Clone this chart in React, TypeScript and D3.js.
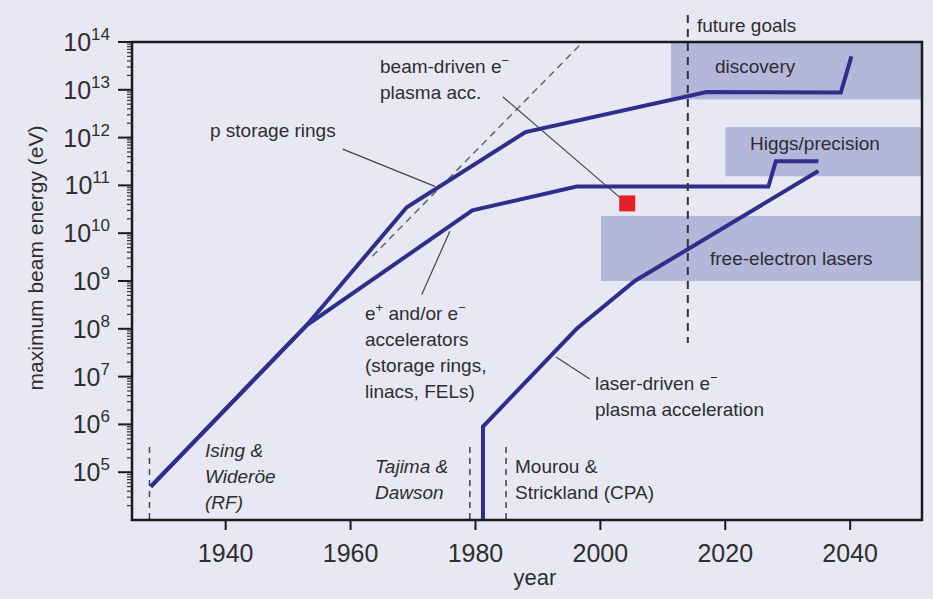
import React, { useEffect, useRef } from 'react';
import * as d3 from 'd3';

// axis ticks
const yearTicks = [1940, 1960, 1980, 2000, 2020, 2040];
const energyExponents = [5, 6, 7, 8, 9, 10, 11, 12, 13, 14];

// proton storage rings
const pRingYears = [1928, 1953, 1969, 1988, 2017, 2038.5, 2040.2];
const pRingEnergy = [5e4, 1.2e8, 3.5e10, 1.3e12, 9e12, 8.8e12, 5e13];

// e+ / e- accelerators
const eAccYears = [1928, 1953, 1979.5, 1996.2, 2026.9, 2028.1, 2034.9];
const eAccEnergy = [5e4, 1.2e8, 3e10, 9.5e10, 9.5e10, 3.2e11, 3.2e11];

// laser-driven plasma acceleration
const laserYears = [1981.2, 1981.2, 1996.2, 2005.5, 2034.9];
const laserEnergy = [1e4, 9e5, 1e8, 1e9, 2e11];

// extrapolated early trend (dashed)
const trendYears = [1963.5, 1997.2];
const trendEnergy = [3.3e9, 1e14];

// beam-driven plasma acceleration point
const beamYears = [2004.3];
const beamEnergy = [4.2e10];

// future goal bands
const goalLabels = ['discovery', 'Higgs/precision', 'free-electron lasers'];
const goalStartYears = [2011.3, 2020.0, 2000.1];
const goalLowEnergy = [6.3e12, 1.55e11, 1e9];
const goalHighEnergy = [1e14, 1.65e12, 2.3e10];

// historical milestones
const milestoneYears = [1927.8, 1979.1, 1984.9];
const futureYear = 2014;

const W = 933;
const H = 599;
const INK = '#2e2e8c';
const TEXT = '#2e2e2e';
const FONT = '"Liberation Sans", Arial, sans-serif';

// a label line is either plain text or a list of [text, superscript] pieces
type Piece = [string, string];
type LabelLine = string | Piece[];

export default function App() {
  const svgRef = useRef<SVGSVGElement>(null);

  useEffect(() => {
    if (!svgRef.current) return;
    const svg = d3.select(svgRef.current);
    svg.selectAll('*').remove();

    const margin = { top: 42, right: 11, bottom: 79, left: 132 };
    const x = d3.scaleLinear().domain([1925, 2051.5]).range([margin.left, W - margin.right]);
    const y = d3.scaleLog().domain([1e4, 1e14]).range([H - margin.bottom, margin.top]);

    svg.append('rect').attr('width', W).attr('height', H).attr('fill', '#e7e8f3');

    svg.append('clipPath').attr('id', 'plot-clip')
      .append('rect')
      .attr('x', margin.left).attr('y', margin.top)
      .attr('width', W - margin.left - margin.right)
      .attr('height', H - margin.top - margin.bottom);

    const plot = svg.append('g').attr('clip-path', 'url(#plot-clip)');

    // future goal bands
    goalLabels.forEach((_, i) => {
      plot.append('rect')
        .attr('x', x(goalStartYears[i]))
        .attr('y', y(goalHighEnergy[i]))
        .attr('width', x(2051.5) - x(goalStartYears[i]))
        .attr('height', y(goalLowEnergy[i]) - y(goalHighEnergy[i]))
        .attr('fill', '#b4b6da');
    });

    // dashed trend
    const line = d3.line<[number, number]>().x(d => x(d[0])).y(d => y(d[1]));
    plot.append('path')
      .attr('d', line(trendYears.map((t, i) => [t, trendEnergy[i]]))!)
      .attr('fill', 'none').attr('stroke', '#666').attr('stroke-width', 1.5)
      .attr('stroke-dasharray', '7,5');

    // leader lines (data coordinates)
    const leaders: [number, number, number, number][] = [
      [1958.75, 10 ** 11.76, 1973.5, 10 ** 10.98],
      [1971.4, 10 ** 8.72, 1975.9, 10 ** 10.04],
      [1984.4, 10 ** 12.85, 2003.1, 10 ** 10.75],
      [1992.9, 10 ** 7.41, 1998.3, 10 ** 6.95],
    ];
    leaders.forEach(l => {
      plot.append('line')
        .attr('x1', x(l[0])).attr('y1', y(l[1]))
        .attr('x2', x(l[2])).attr('y2', y(l[3]))
        .attr('stroke', '#444').attr('stroke-width', 1.2);
    });

    // series
    [[pRingYears, pRingEnergy], [eAccYears, eAccEnergy], [laserYears, laserEnergy]].forEach(([ys, es]) => {
      plot.append('path')
        .attr('d', line(ys.map((t, i) => [t, es[i]]))!)
        .attr('fill', 'none').attr('stroke', INK).attr('stroke-width', 4)
        .attr('stroke-linejoin', 'miter');
    });

    // beam-driven point
    plot.selectAll('.beam').data(beamYears).enter().append('rect')
      .attr('x', d => x(d) - 8)
      .attr('y', (_, i) => y(beamEnergy[i]) - 8)
      .attr('width', 16).attr('height', 16)
      .attr('fill', '#e3202a');

    // milestone dashed verticals
    milestoneYears.forEach(m => {
      svg.append('line')
        .attr('x1', x(m)).attr('x2', x(m))
        .attr('y1', 447).attr('y2', H - margin.bottom)
        .attr('stroke', '#444').attr('stroke-width', 1.5)
        .attr('stroke-dasharray', '6,5');
    });

    // future goals vertical
    svg.append('line')
      .attr('x1', x(futureYear)).attr('x2', x(futureYear))
      .attr('y1', 15).attr('y2', 343)
      .attr('stroke', '#333').attr('stroke-width', 2)
      .attr('stroke-dasharray', '8,6');

    // frame
    svg.append('rect')
      .attr('x', margin.left).attr('y', margin.top)
      .attr('width', W - margin.left - margin.right)
      .attr('height', H - margin.top - margin.bottom)
      .attr('fill', 'none').attr('stroke', '#1a1a1a').attr('stroke-width', 2.5);

    // y axis ticks
    const yAxis = svg.append('g').attr('font-family', FONT).attr('fill', TEXT);
    for (let e = 4; e < 14; e++) {
      for (let k = 2; k <= 9; k++) {
        const v = k * 10 ** e;
        yAxis.append('line')
          .attr('x1', margin.left - 5).attr('x2', margin.left)
          .attr('y1', y(v)).attr('y2', y(v))
          .attr('stroke', '#333').attr('stroke-width', 1.2);
      }
    }
    energyExponents.forEach(e => {
      const yy = y(10 ** e);
      yAxis.append('line')
        .attr('x1', margin.left - 14).attr('x2', margin.left)
        .attr('y1', yy).attr('y2', yy)
        .attr('stroke', '#1a1a1a').attr('stroke-width', 2);
      const t = yAxis.append('text')
        .attr('x', margin.left - 22).attr('y', yy + 9)
        .attr('text-anchor', 'end');
      t.append('tspan').attr('font-size', 25).text('10');
      t.append('tspan').attr('font-size', 17).attr('dy', -11).text(String(e));
    });

    // x axis ticks
    yearTicks.forEach(yr => {
      svg.append('line')
        .attr('x1', x(yr)).attr('x2', x(yr))
        .attr('y1', H - margin.bottom).attr('y2', H - margin.bottom + 10)
        .attr('stroke', '#1a1a1a').attr('stroke-width', 2);
      svg.append('text')
        .attr('x', x(yr)).attr('y', 562)
        .attr('text-anchor', 'middle')
        .attr('font-family', FONT).attr('font-size', 25).attr('fill', TEXT)
        .text(yr);
    });

    // axis titles
    svg.append('text')
      .attr('x', 535).attr('y', 585)
      .attr('text-anchor', 'middle')
      .attr('font-family', FONT).attr('font-size', 22).attr('fill', TEXT)
      .text('year');
    svg.append('text')
      .attr('transform', 'translate(43,258) rotate(-90)')
      .attr('text-anchor', 'middle')
      .attr('font-family', FONT).attr('font-size', 21).attr('fill', TEXT)
      .text('maximum beam energy (eV)');

    // annotations
    const label = (px: number, py: number, lines: LabelLine[], italic = false) => {
      const t = svg.append('text')
        .attr('font-family', FONT).attr('font-size', 19).attr('fill', TEXT)
        .attr('font-style', italic ? 'italic' : 'normal');
      lines.forEach((ln, i) => {
        const rowY = py + i * 26;
        if (typeof ln === 'string') {
          t.append('tspan').attr('x', px).attr('y', rowY).text(ln);
          return;
        }
        ln.forEach(([txt, sup], j) => {
          const ts = t.append('tspan').attr('y', rowY).text(txt);
          if (j === 0) ts.attr('x', px);
          if (sup) t.append('tspan').attr('y', rowY - 8).attr('font-size', 13).text(sup);
        });
      });
    };

    label(210, 137, ['p storage rings']);
    label(380, 73, [[['beam-driven e', '\u2212']], 'plasma acc.']);
    label(365, 320, [[['e', '+'], [' and/or e', '\u2212']], 'accelerators', '(storage rings,', 'linacs, FELs)']);
    label(595, 390, [[['laser-driven e', '\u2212']], 'plasma acceleration']);
    label(205, 457, ['Ising &', 'Wider\u00f6e', '(RF)'], true);
    label(375, 473, ['Tajima &', 'Dawson'], true);
    label(515, 473, ['Mourou &', 'Strickland (CPA)']);
    label(697, 32, ['future goals']);

    // goal band labels
    const goalLabelX = [715, 750, 710];
    const goalLabelY = [73, 150, 265];
    goalLabels.forEach((g, i) => label(goalLabelX[i], goalLabelY[i], [g]));
  }, []);

  return (
    <svg
      ref={svgRef}
      width={W}
      height={H}
      style={{ position: 'absolute', left: 0, top: 0, display: 'block' }}
    />
  );
}
